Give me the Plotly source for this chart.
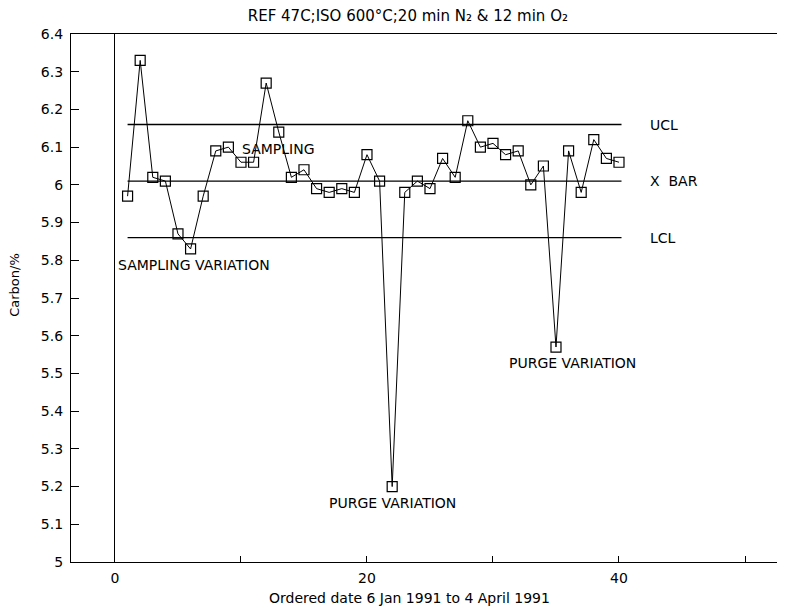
import plotly.graph_objects as go

# Data
order = list(range(1, 41))
carbon = [5.97, 6.33, 6.02, 6.01, 5.87, 5.83, 5.97, 6.09, 6.10, 6.06,
          6.06, 6.27, 6.14, 6.02, 6.04, 5.99, 5.98, 5.99, 5.98, 6.08,
          6.01, 5.20, 5.98, 6.01, 5.99, 6.07, 6.02, 6.17, 6.10, 6.11,
          6.08, 6.09, 6.00, 6.05, 5.57, 6.09, 5.98, 6.12, 6.07, 6.06]

limit_names = ["UCL", "X  BAR", "LCL"]
limit_values = [6.16, 6.01, 5.86]
limit_span = [1, 40.2]

y_tickvals = [5.0, 5.1, 5.2, 5.3, 5.4, 5.5, 5.6, 5.7, 5.8, 5.9, 6.0, 6.1, 6.2, 6.3, 6.4]
y_ticktext = ["5", "5.1", "5.2", "5.3", "5.4", "5.5", "5.6", "5.7", "5.8", "5.9",
              "6", "6.1", "6.2", "6.3", "6.4"]

notes = [
    ("SAMPLING", 9.9, 6.095, "left"),
    ("SAMPLING VARIATION", 0.1, 5.787, "left"),
    ("PURGE VARIATION", 22.05, 5.156, "center"),
    ("PURGE VARIATION", 36.3, 5.527, "center"),
]

FONT = "DejaVu Sans, Liberation Sans, Arial, sans-serif"

fig = go.Figure()

for name, val in zip(limit_names, limit_values):
    fig.add_trace(go.Scatter(x=limit_span, y=[val, val], mode="lines",
                             line=dict(color="black", width=1.3),
                             showlegend=False, hoverinfo="skip"))
    fig.add_annotation(x=42.3, y=val, text=name, showarrow=False,
                       xanchor="left", yanchor="middle",
                       font=dict(family=FONT, size=14, color="black"))

fig.add_trace(go.Scatter(x=order, y=carbon, mode="lines+markers",
                         line=dict(color="black", width=1),
                         marker=dict(symbol="square-open", size=10,
                                     color="black", line=dict(width=1.2)),
                         showlegend=False))

for txt, xx, yy, anc in notes:
    fig.add_annotation(x=xx, y=yy, text=txt, showarrow=False,
                       xanchor=anc, yanchor="middle",
                       font=dict(family=FONT, size=14, color="black"))

# axis titles as annotations for exact placement
fig.add_annotation(x=0.48, y=0, xref="paper", yref="paper", yshift=-36,
                   text="Ordered date 6 Jan 1991 to 4 April 1991", showarrow=False,
                   xanchor="center", yanchor="middle",
                   font=dict(family=FONT, size=14, color="black"))
fig.add_annotation(x=0, y=0.525, xref="paper", yref="paper", xshift=-56,
                   text="Carbon/%", showarrow=False, textangle=-90,
                   xanchor="center", yanchor="middle",
                   font=dict(family=FONT, size=13, color="black"))

# Browser body has an 8px margin: size the figure so the page fits the window
fig.update_layout(
    width=769, height=600,
    margin=dict(l=63, r=0, t=26, b=46),
    paper_bgcolor="white", plot_bgcolor="white",
    font=dict(family=FONT, size=14, color="black"),
    title=dict(text="REF 47C;ISO 600°C;20 min N₂ &amp; 12 min O₂",
               x=0.52, xanchor="center", y=0.996, yanchor="top",
               font=dict(family=FONT, size=15, color="black")),
    xaxis=dict(range=[-3.49, 52.54], tick0=0, dtick=20,
               ticks="inside", ticklen=6, tickcolor="black",
               minor=dict(dtick=10, tick0=0, ticks="inside", ticklen=6, tickcolor="black"),
               showline=True, linecolor="black", linewidth=1.2, mirror=True,
               showgrid=False, zeroline=True, zerolinecolor="black", zerolinewidth=1,
               ticklabelstandoff=3,
               tickfont=dict(family=FONT, size=14)),
    yaxis=dict(range=[5.0, 6.4], tickvals=y_tickvals, ticktext=y_ticktext,
               ticks="inside", ticklen=8, tickcolor="black",
               showline=True, linecolor="black", linewidth=1.2,
               showgrid=False, zeroline=False, ticklabelstandoff=4,
               tickfont=dict(family=FONT, size=14)),
)

fig.write_html("out.html")
